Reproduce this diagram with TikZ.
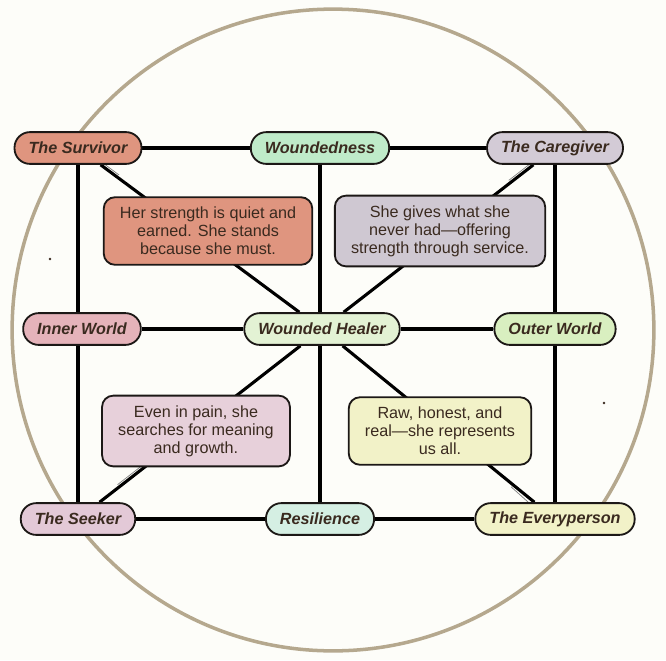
\documentclass[tikz,border=0pt]{standalone}
\usepackage{fontspec}
\setmainfont{Liberation Sans}
\usetikzlibrary{backgrounds,calc}

\definecolor{paper}{HTML}{FDFDF9}
\definecolor{rim}{HTML}{B5A88E}
\definecolor{inkbrown}{HTML}{3A2A1F}
\definecolor{edgeblack}{HTML}{1C1816}
\definecolor{survfill}{HTML}{DF957F}
\definecolor{woundfill}{HTML}{BFEBC9}
\definecolor{carefill}{HTML}{D3CBD6}
\definecolor{innerfill}{HTML}{E5B3BA}
\definecolor{healerfill}{HTML}{E3F2D4}
\definecolor{outerfill}{HTML}{D9EFC0}
\definecolor{seekfill}{HTML}{E3C9D7}
\definecolor{resilfill}{HTML}{D5EFE3}
\definecolor{everyfill}{HTML}{F2F2C8}
\definecolor{carenotefill}{HTML}{CFC8D2}
\definecolor{seeknotefill}{HTML}{E7D0DA}

\begin{document}
\begin{tikzpicture}[
    x=0.025cm, y=-0.025cm,
    role/.style={draw=edgeblack, line width=1.3pt, rounded corners=11pt,
      minimum height=22.6pt, inner xsep=10pt, inner ysep=0pt, text=inkbrown,
      font=\fontsize{11.5}{13}\selectfont\bfseries\itshape},
    note/.style={draw=edgeblack, line width=1.3pt, rounded corners=8pt,
      align=center, inner xsep=11.5pt, inner ysep=7pt, text=inkbrown,
      font=\fontsize{11.5}{12.8}\selectfont},
    link/.style={line width=2.2pt, draw=black},
    ghost/.style={line width=0.5pt, draw=gray}
  ]
  % the nine archetype nodes
  \node[role, fill=survfill] (surv) at (78,148) {The Survivor};
  \node[role, fill=woundfill] (wound) at (320,148) {Woundedness};
  \node[role, fill=carefill] (care) at (555,148) {The Caregiver};
  \node[role, fill=innerfill] (inner) at (82,329) {Inner World};
  \node[role, fill=healerfill] (healer) at (322,329) {Wounded Healer};
  \node[role, fill=outerfill] (outer) at (555,329) {Outer World};
  \node[role, fill=seekfill] (seek) at (78,519) {The Seeker};
  \node[role, fill=resilfill] (resil) at (320,519) {Resilience};
  \node[role, fill=everyfill] (every) at (555,519) {The Everyperson};

  % the four notes
  \node[note, fill=survfill] (survnote) at (208,231)
    {Her strength is quiet and\\earned. She stands\\because she must.};
  \node[note, fill=carenotefill] (carenote) at (440,231)
    {She gives what she\\never had---offering\\strength through service.};
  \node[note, fill=seeknotefill] (seeknote) at (196,431)
    {Even in pain, she\\searches for meaning\\and growth.};
  \node[note, fill=everyfill] (everynote) at (440,431)
    {Raw, honest, and\\real---she represents\\us all.};

  \begin{pgfonlayer}{background}
    \fill[paper] (0,0) rectangle (666,660);
    \draw[rim, line width=2.5pt] (333,330) circle[radius=8.02cm];
    % grid
    \draw[link] (surv) -- (wound) -- (care);
    \draw[link] (inner) -- (healer) -- (outer);
    \draw[link] (seek) -- (resil) -- (every);
    \draw[link] (surv) -- (seek);
    \draw[link] (wound) -- (resil);
    \draw[link] (care) -- (every);
    % diagonals
    \draw[link] (surv) -- (healer);
    \draw[link] (care) -- (healer);
    \draw[link] (seek) -- (healer);
    \draw[link] (every) -- (healer);
    % faint doubled strokes
    \coordinate (g1a) at ($(surv)!.08!(healer)$);
    \coordinate (g1b) at ($(surv)!.16!(healer)$);
    \coordinate (g2a) at ($(care)!.09!(healer)$);
    \coordinate (g2b) at ($(care)!.19!(healer)$);
    \coordinate (g3a) at ($(seek)!.17!(healer)$);
    \coordinate (g3b) at ($(seek)!.27!(healer)$);
    \coordinate (g4a) at ($(every)!.08!(healer)$);
    \coordinate (g4b) at ($(every)!.18!(healer)$);
    \draw[ghost] ([shift={(2,-2)}]g1a) -- ([shift={(2,-2)}]g1b);
    \draw[ghost] ([shift={(-2,-2)}]g2a) -- ([shift={(-2,-2)}]g2b);
    \draw[ghost] ([shift={(-2,-2)}]g3a) -- ([shift={(-2,-2)}]g3b);
    \draw[ghost] ([shift={(-3,3)}]g4a) -- ([shift={(-2,2)}]g4b);
  \end{pgfonlayer}

  % stray specks
  \fill[inkbrown] (50,259) circle[radius=1.4];
  \fill[inkbrown] (604,403) circle[radius=1.4];
\end{tikzpicture}
\end{document}
